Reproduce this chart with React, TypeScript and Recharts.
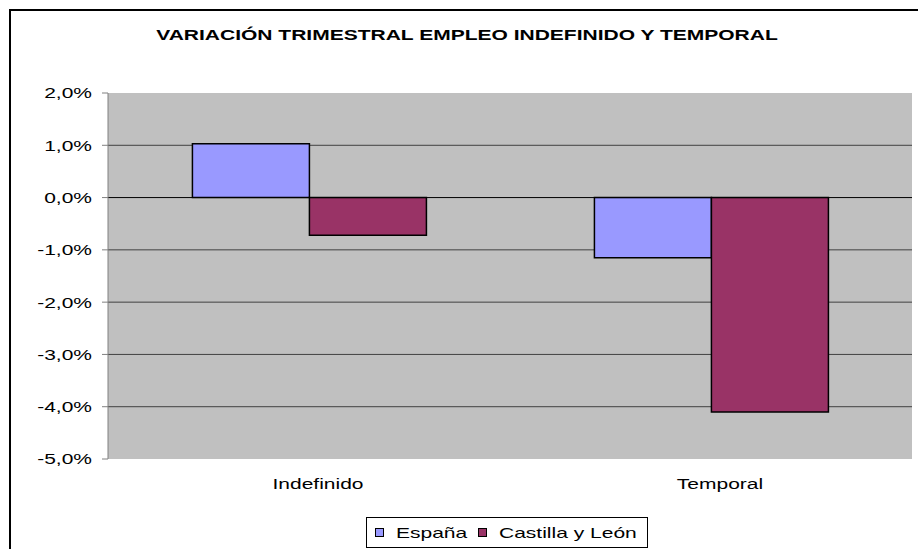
import React from 'react';
import { BarChart, Bar, XAxis, YAxis, CartesianGrid, ReferenceLine, Legend } from 'recharts';

const categories = ['Indefinido', 'Temporal'];
const espana = [1.03, -1.15];
const castilla = [-0.72, -4.1];
const yTicks = [2, 1, 0, -1, -2, -3, -4, -5];
const seriesNames = ['España', 'Castilla y León'];

const COLORS = { espana: '#9999FF', castilla: '#993366' };
const FONT = '"Liberation Sans", Arial, sans-serif';
// the original picture is stretched sideways, so text is widened to match
const SX = 1.4;

const data = categories.map((name, i) => ({
  name,
  espana: espana[i],
  castilla: castilla[i],
}));

const fmtPct = (v: number) => `${v.toFixed(1).replace('.', ',')}%`;

let ctx: CanvasRenderingContext2D | null = null;
const textWidth = (txt: string, size: number) => {
  if (!ctx) ctx = document.createElement('canvas').getContext('2d');
  if (!ctx) return txt.length * size * 0.55;
  ctx.font = `${size}px "Liberation Sans"`;
  return ctx.measureText(txt).width;
};

const Wide = ({ text, size }: { text: string; size: number }) => (
  <span style={{ display: 'inline-block', width: textWidth(text, size) * SX, whiteSpace: 'nowrap' }}>
    <span style={{ display: 'inline-block', transform: `scaleX(${SX})`, transformOrigin: 'left center' }}>{text}</span>
  </span>
);

const YTick = ({ x, y, payload }: any) => (
  <g transform={`translate(${x - 8},${y}) scale(${SX},1)`}>
    <text x={0} y={0} dy="0.36em" textAnchor="end" fill="#000" fontSize={15} fontFamily={FONT}>
      {fmtPct(payload.value)}
    </text>
  </g>
);

const XTick = ({ x, y, payload }: any) => (
  <g transform={`translate(${x + 9},${y + 30}) scale(${SX},1)`}>
    <text x={0} y={0} textAnchor="middle" fill="#000" fontSize={15} fontFamily={FONT}>
      {payload.value}
    </text>
  </g>
);

const LegendBox = ({ payload }: any) => {
  const items = [...(payload || [])].sort((a: any, b: any) => seriesNames.indexOf(a.value) - seriesNames.indexOf(b.value));
  return (
    <div style={{ display: 'flex', justifyContent: 'center', paddingLeft: 94 }}>
      <div
        style={{
          border: '1px solid #000',
          boxSizing: 'border-box',
          height: 31,
          padding: '0 10px 0 8px',
          display: 'flex',
          alignItems: 'center',
          fontFamily: FONT,
          fontSize: 15,
          color: '#000',
          background: '#fff',
        }}
      >
        {items.map((p: any, i: number) => (
          <span key={`leg-${i}`} style={{ display: 'flex', alignItems: 'center', marginLeft: i ? 11 : 0 }}>
            <span
              style={{
                width: 9,
                height: 9,
                boxSizing: 'border-box',
                border: '1.5px solid #000',
                background: p.color,
                display: 'inline-block',
                marginRight: 12,
              }}
            />
            <Wide text={p.value} size={15} />
          </span>
        ))}
      </div>
    </div>
  );
};

const App: React.FC = () => {
  return (
    <div style={{ position: 'absolute', left: 0, top: 0, width: 918, height: 549, overflow: 'hidden', background: '#fff' }}>
      {/* outer chart border */}
      <div
        style={{
          position: 'absolute',
          left: 9,
          top: 9,
          width: 1000,
          height: 600,
          borderLeft: '2px solid #000',
          borderTop: '2px solid #000',
        }}
      />
      <div
        style={{
          position: 'absolute',
          left: 0,
          width: 934,
          top: 26,
          textAlign: 'center',
          fontFamily: FONT,
          fontWeight: 'bold',
          fontSize: 15,
          color: '#000',
          whiteSpace: 'nowrap',
          transform: `scaleX(${SX})`,
          transformOrigin: '467px 50%',
        }}
      >
        VARIACIÓN TRIMESTRAL EMPLEO INDEFINIDO Y TEMPORAL
      </div>
      <div style={{ position: 'absolute', left: 0, top: 0 }}>
        <BarChart
          width={918}
          height={549}
          data={data}
          margin={{ top: 93, right: 6, bottom: 1, left: 8 }}
          barGap={0}
          barCategoryGap="21%"
        >
          <CartesianGrid
            horizontal
            vertical={false}
            fill="#C0C0C0"
            stroke="#404040"
            horizontalValues={[1, -1, -2, -3, -4]}
          />
          <XAxis
            dataKey="name"
            axisLine={false}
            tickLine={false}
            tickSize={0}
            tickMargin={0}
            height={58}
            tick={<XTick />}
          />
          <YAxis
            width={100}
            domain={[-5, 2]}
            ticks={yTicks}
            interval={0}
            axisLine={{ stroke: '#808080' }}
            tickLine={{ stroke: '#808080' }}
            tick={<YTick />}
          />
          <ReferenceLine y={0} stroke="#000" strokeWidth={1} />
          <Legend verticalAlign="bottom" content={<LegendBox />} />
          <Bar dataKey="espana" name="España" fill={COLORS.espana} stroke="#000" strokeWidth={1.5} isAnimationActive={false} />
          <Bar dataKey="castilla" name="Castilla y León" fill={COLORS.castilla} stroke="#000" strokeWidth={1.5} isAnimationActive={false} />
        </BarChart>
      </div>
    </div>
  );
};

export default App;
